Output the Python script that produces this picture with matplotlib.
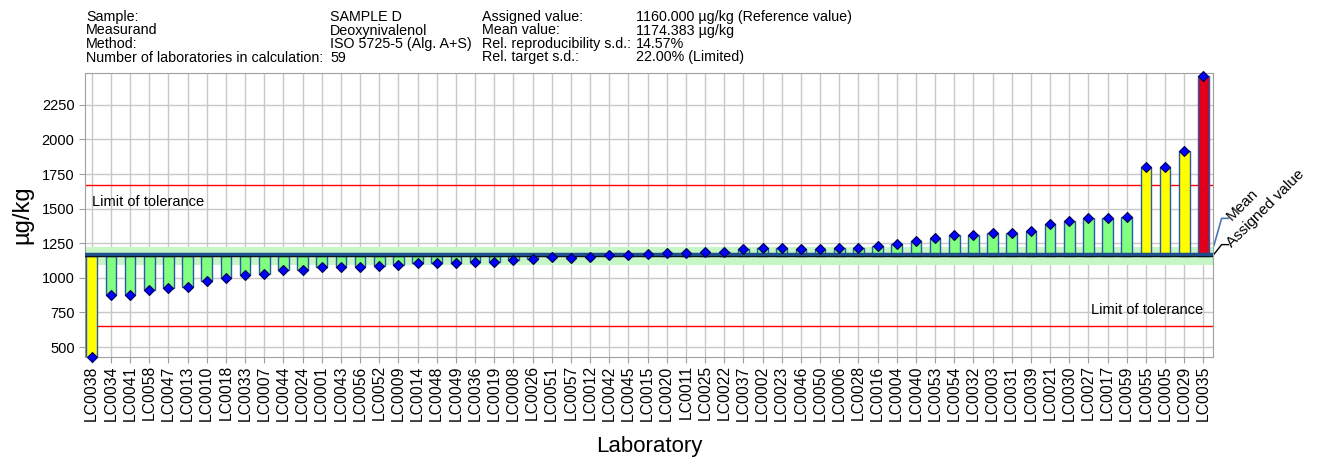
import matplotlib
matplotlib.use('Agg')
import matplotlib.pyplot as plt
import numpy as np

plt.rcParams['font.family'] = ['Liberation Sans', 'DejaVu Sans']

# Data
labs = ['LC0038', 'LC0034', 'LC0041', 'LC0058', 'LC0047', 'LC0013', 'LC0010', 'LC0018',
        'LC0033', 'LC0007', 'LC0044', 'LC0024', 'LC0001', 'LC0043', 'LC0056', 'LC0052',
        'LC0009', 'LC0014', 'LC0048', 'LC0049', 'LC0036', 'LC0019', 'LC0008', 'LC0026',
        'LC0051', 'LC0057', 'LC0012', 'LC0042', 'LC0045', 'LC0015', 'LC0020', 'LC0011',
        'LC0025', 'LC0022', 'LC0037', 'LC0002', 'LC0023', 'LC0046', 'LC0050', 'LC0006',
        'LC0028', 'LC0016', 'LC0004', 'LC0040', 'LC0053', 'LC0054', 'LC0032', 'LC0003',
        'LC0031', 'LC0039', 'LC0021', 'LC0030', 'LC0027', 'LC0017', 'LC0059', 'LC0055',
        'LC0005', 'LC0029', 'LC0035']
values = [430, 874, 879, 913, 925, 935, 975, 1000,
          1017, 1026, 1060, 1060, 1077, 1077, 1077, 1084,
          1091, 1104, 1104, 1104, 1118, 1118, 1128, 1138,
          1147, 1145, 1154, 1162, 1162, 1171, 1176, 1176,
          1188, 1188, 1205, 1212, 1212, 1210, 1210, 1217,
          1217, 1229, 1246, 1263, 1285, 1311, 1311, 1321,
          1321, 1336, 1389, 1413, 1430, 1430, 1439, 1801,
          1801, 1917, 2461]
yellow_labs = ['LC0038', 'LC0055', 'LC0005', 'LC0029']
red_labs = ['LC0035']

assigned = 1160.0
mean_val = 1174.383
tol_hi = 1670.4
tol_lo = 649.6
band_lo = 1093
band_hi = 1222

header_cols = [
    ['Sample:', 'Measurand', 'Method:', 'Number of laboratories in calculation:'],
    ['SAMPLE D', 'Deoxynivalenol', 'ISO 5725-5 (Alg. A+S)', '59'],
    ['Assigned value:', 'Mean value:', 'Rel. reproducibility s.d.:', 'Rel. target s.d.:'],
    ['1160.000 µg/kg (Reference value)', '1174.383 µg/kg', '14.57%', '22.00% (Limited)'],
]

colors = []
for l in labs:
    if l in red_labs:
        colors.append('#E0001B')
    elif l in yellow_labs:
        colors.append('#FFFF00')
    else:
        colors.append('#80FF80')

W, H = 1322, 458
fig = plt.figure(figsize=(W / 100, H / 100), dpi=100)
ax = fig.add_axes([85 / W, 1 - 357 / H, (1213 - 85) / W, (357 - 73) / H])

x = np.arange(len(labs))
ax.axhspan(band_lo, band_hi, color='#C6F5C6', zorder=1, lw=0)
ax.bar(x, np.array(values) - assigned, bottom=assigned, width=0.56, color=colors,
       edgecolor='#2A5AA8', linewidth=1.0, zorder=3)
ax.axhline(assigned, color='black', lw=1.0, zorder=4)
ax.axhline(mean_val, color='#1F4E8C', lw=2.5, zorder=4)
ax.plot(x, values, 'D', color='#0000FF', markeredgecolor='#000050', markeredgewidth=0.8,
        markersize=5.5, zorder=6, clip_on=False)
ax.axhline(tol_hi, color='#FF0000', lw=1.0, zorder=2)
ax.axhline(tol_lo, color='#FF0000', lw=1.0, zorder=2)

ax.set_xlim(-0.35, len(labs) - 0.5)
ax.set_ylim(428, 2480)
ax.set_yticks([500, 750, 1000, 1250, 1500, 1750, 2000, 2250])
ax.set_xticks(x)
ax.set_xticklabels(labs, rotation=90, fontsize=11.3)
ax.tick_params(axis='y', labelsize=10.5, length=4, color='#A0A0A0')
ax.tick_params(axis='x', length=4, color='#A0A0A0', pad=2)
ax.grid(True, color='#C8C8C8', lw=1.0, zorder=0)
ax.set_axisbelow(True)
for s in ax.spines.values():
    s.set_color('#A0A0A0')

ax.set_ylabel('µg/kg', fontsize=17, labelpad=6)
ax.set_xlabel('Laboratory', fontsize=16, labelpad=11)

ax.text(0.02, 1550, 'Limit of tolerance', fontsize=10.5, va='center', ha='left', zorder=7)
ax.text(58.0, 765, 'Limit of tolerance', fontsize=10.5, va='center', ha='right', zorder=7)

# leader lines and rotated labels at right edge
ax.plot([58.55, 58.95, 59.3], [mean_val + 60, 1430, 1430], color='#4A78B8', lw=1.2,
        clip_on=False)
ax.plot([58.55, 58.95, 59.3], [assigned + 10, 1240, 1240], color='black', lw=1.0,
        clip_on=False)
ax.text(59.35, 1430, 'Mean', rotation=45, fontsize=11, ha='left', va='center',
        rotation_mode='anchor')
ax.text(59.35, 1240, 'Assigned value', rotation=45, fontsize=11, ha='left', va='center',
        rotation_mode='anchor')

col_x = [86, 330, 482, 636]
row_y = [17, 30.5, 44, 57.5]
for cx, col in zip(col_x, header_cols):
    for ry, t in zip(row_y, col):
        fig.text(cx / W, 1 - ry / H, t, fontsize=10.3, ha='left', va='center')

fig.savefig('out.png', dpi=100)
